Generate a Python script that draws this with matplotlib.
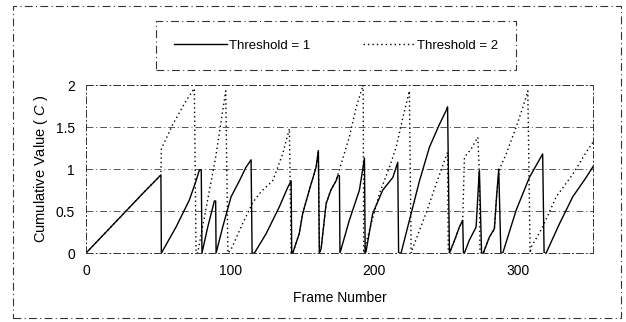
import numpy as np
import matplotlib
matplotlib.use('Agg')
import matplotlib.pyplot as plt
from matplotlib.lines import Line2D
from matplotlib.patches import Rectangle

plt.rcParams['font.family'] = ['Liberation Sans', 'DejaVu Sans']
plt.rcParams['mathtext.fontset'] = 'custom'
plt.rcParams['mathtext.it'] = 'Liberation Sans:italic'
plt.rcParams['mathtext.rm'] = 'Liberation Sans'

# threshold = 1 (solid)
frames_t1 = [0, 10, 20, 30, 40, 52, 52.3,
             62.5, 71.7, 76.4, 78.7, 80, 80.5,
             84.5, 89.1, 90, 90.3,
             94.9, 100.7, 106.5, 111, 114.6, 115.3, 116.9,
             125, 134.2, 140, 142.4, 142.8, 143.5,
             148, 150.4, 155, 159.7, 161.3, 162, 163.2,
             166.7, 170, 173.6, 174.7, 175.9, 176.3,
             182.8, 189.8, 193.3, 193.8, 194.4,
             199, 206, 213, 216.4, 217, 218.7,
             224.5, 231.5, 238.4, 245.3, 250.4, 251, 252.3,
             255.8, 259.2, 261.5, 262, 262.7,
             266, 270.8, 272.6, 273.1, 274.6, 275.8,
             280, 283.5, 285, 286.5, 288, 289.3,
             298.6, 307.8, 317, 318, 319.4,
             328.7, 337.9, 347.2, 352]
values_t1 = [0, 0.18, 0.36, 0.54, 0.72, 0.93, 0,
             0.31, 0.63, 0.86, 0.99, 0.99, 0,
             0.31, 0.62, 0.62, 0,
             0.31, 0.67, 0.86, 1.02, 1.11, 0, 0,
             0.23, 0.55, 0.78, 0.86, 0, 0,
             0.23, 0.47, 0.75, 1.02, 1.22, 0, 0.05,
             0.59, 0.75, 0.86, 0.92, 0.92, 0,
             0.39, 0.75, 1.13, 0, 0.02,
             0.47, 0.75, 0.9, 1.08, 0, 0,
             0.39, 0.86, 1.26, 1.53, 1.71, 1.74, 0,
             0.15, 0.31, 0.39, 0, 0,
             0.15, 0.31, 0.86, 0.98, 0, 0,
             0.19, 0.29, 0.67, 1.0, 0, 0,
             0.51, 0.9, 1.18, 0, 0,
             0.35, 0.67, 0.9, 1.03]

# threshold = 2 (dotted)
frames_t2 = [0, 20, 40, 52, 52.3, 60.2, 69.4, 75.2, 76.4, 77.5,
             84.4, 90, 97, 98.5, 100.6,
             108.7, 115.7, 121.5, 129.6, 136.5, 141.2, 142.4, 143.5,
             148, 150.4, 155, 159.7, 161.3, 162, 163.2,
             166.7, 170, 173.6, 176,
             182.8, 187.5, 192.4, 192.8, 194.4,
             198, 203.7, 210.6, 215.3, 219.9, 224.5, 225.7, 227,
             236, 243, 251, 251.5, 252.3,
             255.8, 259.2, 261.5, 262.7,
             267.4, 272, 273, 273.5, 274.6, 275.8,
             280, 283.5, 285, 287,
             291.7, 298.6, 303.2, 306.7, 308.3, 309,
             317, 326.4, 338, 347.2, 352]
values_t2 = [0, 0.36, 0.72, 0.93, 1.24, 1.53, 1.81, 1.96, 0, 0,
             0.63, 1.14, 1.93, 0, 0.04,
             0.35, 0.6, 0.73, 0.86, 1.18, 1.48, 0, 0,
             0.23, 0.47, 0.75, 1.02, 1.22, 0, 0.05,
             0.59, 0.75, 0.86, 1.0,
             1.38, 1.73, 2.0, 0, 0.12,
             0.35, 0.71, 1.02, 1.26, 1.61, 1.93, 0, 0.07,
             0.47, 0.82, 1.2, 0, 0,
             0.15, 0.31, 0.39, 1.14,
             1.24, 1.38, 0.98, 0, 0, 0,
             0.19, 0.29, 0.67, 1.0,
             1.18, 1.5, 1.73, 1.93, 0, 0.07,
             0.31, 0.67, 0.94, 1.2, 1.32]

y_ticks = [0, 0.5, 1, 1.5, 2]
y_labels = ['0', '0.5', '1', '1.5', '2']
x_ticks = [0, 100, 200, 300]

fig = plt.figure(figsize=(6.26, 3.22), dpi=100)
ax = fig.add_axes([0.1374, 0.214, 0.81, 0.522])

ax.plot(frames_t1, values_t1, color='black', lw=1.0, ls='-')
ax.plot(frames_t2, values_t2, color='black', lw=1.0, ls=(0, (1, 2.2)))

ax.set_xlim(0, 352)
ax.set_ylim(0, 2)
ax.set_xticks(x_ticks)
ax.set_yticks(y_ticks)
ax.set_yticklabels(y_labels)
ax.tick_params(length=0, labelsize=10)
ax.tick_params(axis='x', pad=8)
ax.tick_params(axis='y', pad=8)
ax.yaxis.grid(True, color='#555555', lw=0.7, ls=(0, (7, 3, 1, 3)))
ax.set_axisbelow(True)
for s in ax.spines.values():
    s.set_linestyle((0, (7, 3, 1, 3)))
    s.set_linewidth(0.7)
    s.set_color('#333333')

ax.set_xlabel('Frame Number', fontsize=10, labelpad=9)
ax.set_ylabel(r'Cumulative Value ( $\mathit{C}$ )', fontsize=10.5, labelpad=4)

handles = [Line2D([], [], color='black', lw=1.0, ls='-'),
           Line2D([], [], color='black', lw=1.0, ls=(0, (1, 2.2)))]
leg = fig.legend(handles, ['Threshold = 1', 'Threshold = 2'], loc='center',
                 bbox_to_anchor=(0.537, 0.859), ncol=2, fontsize=9.5,
                 fancybox=False, handlelength=4.0, handletextpad=0.1,
                 columnspacing=4.0, borderpad=1.4)
fr = leg.get_frame()
fr.set_edgecolor('black')
fr.set_linewidth(0.8)
fr.set_linestyle((0, (7, 3, 1, 3)))

# dash-dot border round the whole figure
fig.patches.append(Rectangle((0.021, 0.012), 0.971, 0.969, transform=fig.transFigure,
                             fill=False, ec='#333333', lw=0.8, ls=(0, (7, 3, 1, 3))))

fig.savefig('out.png', dpi=100)
